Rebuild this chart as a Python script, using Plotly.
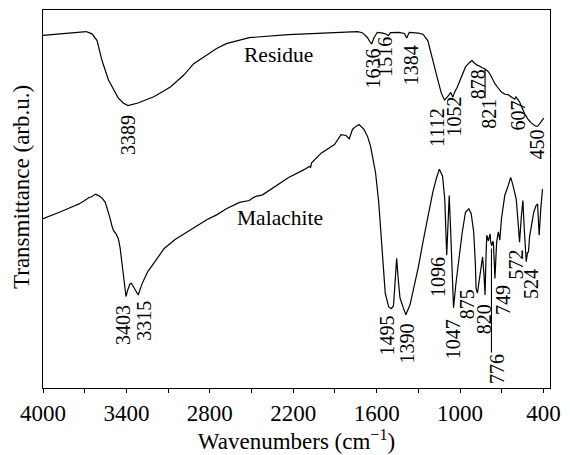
import plotly.graph_objects as go

# ---- data (wavenumber cm^-1, transmittance arb.u.) ----
RESIDUE = [(4000, 93.3), (3850, 93.8), (3720, 94.3), (3690, 94.3), (3670, 94.0), (3647, 93.7),
           (3611, 91.9), (3576, 86.7), (3529, 81.5), (3458, 76.7), (3423, 75.4), (3389, 74.7),
           (3317, 75.4), (3199, 77.1), (3081, 79.7), (2987, 82.8), (2916, 85.8), (2822, 88.0),
           (2751, 89.8), (2681, 91.1), (2516, 92.7), (2233, 93.5), (1997, 93.9), (1738, 94.3),
           (1703, 94.0), (1668, 92.8), (1648, 91.6), (1636, 91.0), (1620, 92.6), (1595, 94.1),
           (1555, 93.9), (1530, 93.6), (1516, 93.2), (1500, 94.0), (1440, 94.1), (1400, 93.8),
           (1384, 92.6), (1365, 94.1), (1300, 93.9), (1267, 93.6), (1232, 91.9), (1210, 88.5),
           (1185, 85.0), (1160, 81.5), (1135, 78.0), (1112, 76.2), (1085, 77.3), (1067, 78.2),
           (1052, 76.9), (1040, 78.2), (1019, 79.7), (990, 82.5), (960, 85.0), (935, 86.0),
           (915, 86.6), (895, 85.9), (878, 85.4), (860, 85.2), (845, 84.8), (821, 84.4),
           (800, 83.8), (784, 83.0), (765, 81.5), (749, 80.5), (725, 79.3), (702, 78.3),
           (678, 77.7), (654, 77.6), (631, 77.0), (616, 76.6), (607, 76.4), (598, 77.0),
           (588, 76.6), (572, 75.7), (555, 74.2), (537, 72.7), (513, 71.2), (490, 70.2),
           (466, 69.5), (450, 69.2), (440, 69.3), (425, 70.0), (407, 71.0), (398, 71.4)]

MALACHITE = [(4000, 44.8), (3940, 45.6), (3882, 46.5), (3810, 47.6), (3741, 48.7), (3700, 49.6),
             (3670, 50.4), (3650, 50.6), (3635, 50.9), (3623, 51.3), (3600, 50.9), (3575, 50.2),
             (3552, 49.1), (3535, 47.2), (3517, 44.8), (3505, 43.0), (3493, 41.7), (3475, 40.8),
             (3458, 39.5), (3445, 37.0), (3435, 34.3), (3416, 28.2), (3403, 24.2), (3390, 26.0),
             (3375, 27.5), (3364, 27.7), (3350, 26.8), (3330, 25.2), (3315, 24.6), (3300, 26.3),
             (3280, 28.2), (3246, 30.8), (3190, 33.8), (3128, 36.9), (3050, 39.3), (2963, 41.3),
             (2892, 42.8), (2822, 44.5), (2751, 45.8), (2681, 47.4), (2586, 49.1), (2540, 49.5),
             (2516, 49.6), (2490, 50.3), (2468, 50.7), (2421, 51.1), (2327, 53.3), (2233, 55.7),
             (2115, 57.9), (2085, 58.6), (2075, 58.4), (2068, 59.6), (1997, 62.2), (1903, 64.4),
             (1856, 67.0), (1835, 66.9), (1820, 66.8), (1797, 65.9), (1774, 68.4), (1750, 69.2),
             (1726, 69.7), (1691, 68.4), (1665, 66.5), (1644, 64.0), (1625, 60.5), (1608, 57.0),
             (1585, 49.1), (1562, 38.0), (1538, 25.0), (1514, 21.5), (1495, 21.0), (1479, 21.7),
             (1468, 28.0), (1456, 34.3), (1444, 28.5), (1432, 23.8), (1408, 21.2), (1390, 19.4),
             (1360, 22.0), (1338, 25.5), (1300, 32.0), (1267, 38.6), (1230, 45.5), (1196, 51.8),
             (1170, 55.5), (1149, 57.9), (1126, 56.1), (1110, 50.0), (1096, 35.1), (1088, 42.0),
             (1078, 50.9), (1068, 42.0), (1055, 28.0), (1047, 21.2), (1030, 27.5), (1008, 34.3),
             (985, 41.0), (961, 46.5), (937, 47.4), (920, 46.2), (902, 41.3), (890, 33.0),
             (885, 26.4), (875, 25.1), (865, 27.5), (855, 29.9), (838, 34.7), (828, 30.0),
             (820, 24.6), (814, 34.0), (808, 40.4), (796, 38.9), (784, 40.8), (779, 38.5),
             (772, 37.6), (765, 38.8), (760, 38.4), (749, 29.0), (737, 38.6), (725, 41.3),
             (714, 39.1), (702, 44.8), (685, 50.0), (678, 51.0), (654, 53.5), (636, 55.7),
             (622, 54.0), (608, 51.8), (596, 50.0), (585, 45.0), (572, 38.6), (560, 45.0),
             (548, 49.6), (538, 42.0), (530, 36.0), (524, 33.4), (515, 35.8), (508, 36.0),
             (500, 40.0), (489, 42.6), (470, 46.5), (454, 48.2), (442, 48.7), (436, 44.0),
             (431, 40.4), (420, 47.0), (407, 52.6)]

res_wn, res_t = zip(*RESIDUE)
mal_wn, mal_t = zip(*MALACHITE)

# peak labels: (text, label-centre wavenumber, label-centre transmittance)
RES_LABELS = [("3389", 3394, 67.0), ("1636", 1625, 84.6), ("1516", 1536, 87.5),
              ("1384", 1352, 85.4), ("1112", 1171, 68.9), ("1052", 1044, 71.8),
              ("878", 875, 80.5), ("821", 797, 72.6), ("607", 585, 72.0), ("450", 447, 64.4)]
MAL_LABELS = [("3403", 3423, 16.7), ("3315", 3274, 17.8), ("1495", 1525, 13.9),
              ("1390", 1384, 11.7), ("1096", 1154, 29.3), ("1047", 1055, 13.0),
              ("875", 949, 22.2), ("820", 832, 18.3), ("776", 730, 4.9), ("749", 691, 23.3),
              ("572", 596, 32.7), ("524", 490, 27.5)]
# leader lines: (wavenumber, y_from, y_to)
LEADERS = [(820, 84.4, 76.7), (774, 36.9, 9.4)]
NAMES = [("Residue", 2306, 88.0), ("Malachite", 2298, 45.1)]

XTICKS = [4000, 3400, 2800, 2200, 1600, 1000, 400]

FONT = "Liberation Serif"

fig = go.Figure()
for wn, t in [(res_wn, res_t), (mal_wn, mal_t)]:
    fig.add_trace(go.Scatter(x=list(wn), y=list(t), mode="lines",
                             line=dict(color="black", width=1.2), showlegend=False,
                             hoverinfo="skip"))

ann = []
for txt, x, y in RES_LABELS + MAL_LABELS:
    ann.append(dict(x=x, y=y, xref="x", yref="y", text=txt, showarrow=False,
                    textangle=-90, xanchor="center", yanchor="middle",
                    font=dict(family=FONT, size=20, color="black")))
for txt, x, y in NAMES:
    ann.append(dict(x=x, y=y, xref="x", yref="y", text=txt, showarrow=False,
                    xanchor="center", yanchor="middle",
                    font=dict(family=FONT, size=21.5, color="black")))
ann.append(dict(x=-0.042, y=0.531, xref="paper", yref="paper",
                text="Transmittance (arb.u.)", showarrow=False, textangle=-90,
                xanchor="center", yanchor="middle",
                font=dict(family=FONT, size=23, color="black")))

shapes = [dict(type="line", xref="x", yref="y", x0=x, x1=x, y0=y0, y1=y1,
               line=dict(color="black", width=1.1)) for x, y0, y1 in LEADERS]

fig.update_layout(
    width=570, height=455,
    margin=dict(l=43, r=11, t=9, b=64),
    paper_bgcolor="white", plot_bgcolor="white",
    annotations=ann, shapes=shapes,
    font=dict(family=FONT, color="black"),
    xaxis=dict(range=[4000, 353], tickvals=XTICKS, ticks="outside", ticklen=4,
               tickwidth=1.2, tickcolor="black", showgrid=False, zeroline=False,
               showline=True, linecolor="black", linewidth=1.2, mirror=True,
               tickfont=dict(family=FONT, size=23, color="black"),
               minor=dict(tickvals=[3700, 3100, 2500, 1900, 1300, 700], ticks="outside",
                          ticklen=4, tickwidth=1.2, tickcolor="black", showgrid=False),
               title=dict(text="Wavenumbers (cm<sup>\u22121</sup>)",
                          font=dict(family=FONT, size=23, color="black"), standoff=4)),
    yaxis=dict(range=[0, 100], showticklabels=False, ticks="", showgrid=False,
               zeroline=False, showline=True, linecolor="black", linewidth=1.2,
               mirror=True),
)

fig.write_html("out.html")
